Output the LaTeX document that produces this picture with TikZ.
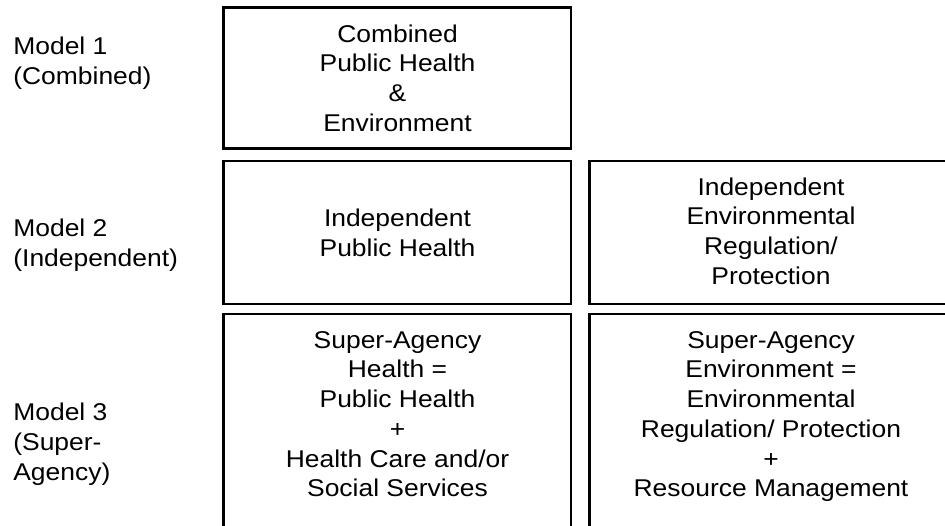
\documentclass[tikz,border=0pt]{standalone}
\usepackage{fontspec}
\setmainfont{Liberation Sans}[FakeStretch=1.09]
\usetikzlibrary{positioning}

\tikzset{
  box/.style={draw, line width=1.5pt},
  txt/.style={align=center, inner sep=0pt, font=\fontsize{13.8}{16.9}\selectfont},
  model/.style={align=left, anchor=west, inner sep=0pt, font=\fontsize{13.8}{17.1}\selectfont}
}

\begin{document}
\begin{tikzpicture}
                \useasboundingbox (0,0) rectangle (18.9,10.5);
                \clip (0,0) rectangle (18.9,10.5);
                % box corners
                \coordinate (P1) at (4.47,10.35);
                \coordinate (Q1) at (11.42,7.53);
                \coordinate (P2) at (4.47,7.28);
                \coordinate (Q2) at (11.42,4.42);
                \coordinate (R2) at (11.79,7.28);
                \coordinate (S2) at (19.06,4.42);
                \coordinate (P3) at (4.47,4.22);
                \coordinate (Q3) at (11.42,-0.2);
                \coordinate (R3) at (11.79,4.22);
                \coordinate (S3) at (19.06,-0.2);
                \draw[box] (P1) rectangle (Q1);
                \draw[box] (P2) rectangle (Q2);
                \draw[box] (R2) rectangle (S2);
                \draw[box] (P3) rectangle (Q3);
                \draw[box] (R3) rectangle (S3);
                % row labels
                \node[model] (m1) at (0.26,9.23) {Model 1\\(Combined)};
                \node[model] (m2) at (0.26,5.59) {Model 2\\(Independent)};
                \node[model] (m3) at (0.26,1.61) {Model 3\\(Super-\\Agency)};
                % box texts
                \node[txt] (comb) at (7.95,8.94) {Combined\\Public Health\\\&\\Environment};
                \node[txt] (indph) at (7.95,5.84) {Independent\\Public Health};
                \node[txt] (indenv) at (15.42,5.88) {Independent\\Environmental\\Regulation/\\Protection};
                \node[txt, anchor=north] (suph) at (7.95,3.88) {Super-Agency\\Health =\\Public Health\\+\\Health Care and/or\\Social Services};
                \node[txt, anchor=north] (supenv) at (15.42,3.88) {Super-Agency\\Environment =\\Environmental\\Regulation/ Protection\\+\\Resource Management};
            \end{tikzpicture}
\end{document}
